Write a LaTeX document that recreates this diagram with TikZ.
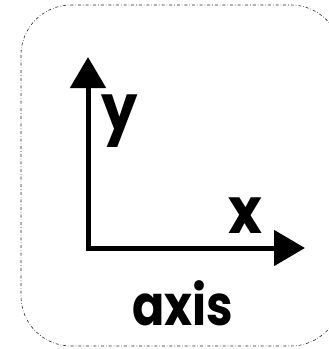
\documentclass[tikz,border=0pt]{standalone}
\usepackage{fontspec}
\setmainfont{Poppins}[BoldFont={* Bold}]
\usetikzlibrary{arrows.meta}
\begin{document}
\begin{tikzpicture}[x=1pt,y=-1pt,
  frame/.style={draw=black!85, line width=0.6pt, dash dot, rounded corners=50pt},
  axisline/.style={line width=5pt, -{Triangle[width=35pt,length=31pt]}},
  lbl/.style={font=\bfseries\fontsize{64}{64}\selectfont, inner sep=0pt, xscale=0.9},
  ttl/.style={font=\bfseries\fontsize{56}{56}\selectfont, inner sep=0pt, xscale=0.85}]
\useasboundingbox (0,0) rectangle (329,349);
\draw[frame] (21,5) rectangle (341,346);
\coordinate (ytip) at (88,57);
\coordinate (xtip) at (305,248);
\draw[axisline] (88,250.5) -- (ytip);
\draw[axisline] (85.5,248) -- (xtip);
\node[lbl, anchor=base] (ylab) at (120,130) {y};
\node[lbl, anchor=base] (xlab) at (245,233) {x};
\node[ttl, anchor=base] (title) at (183,325) {axis};
\end{tikzpicture}
\end{document}
